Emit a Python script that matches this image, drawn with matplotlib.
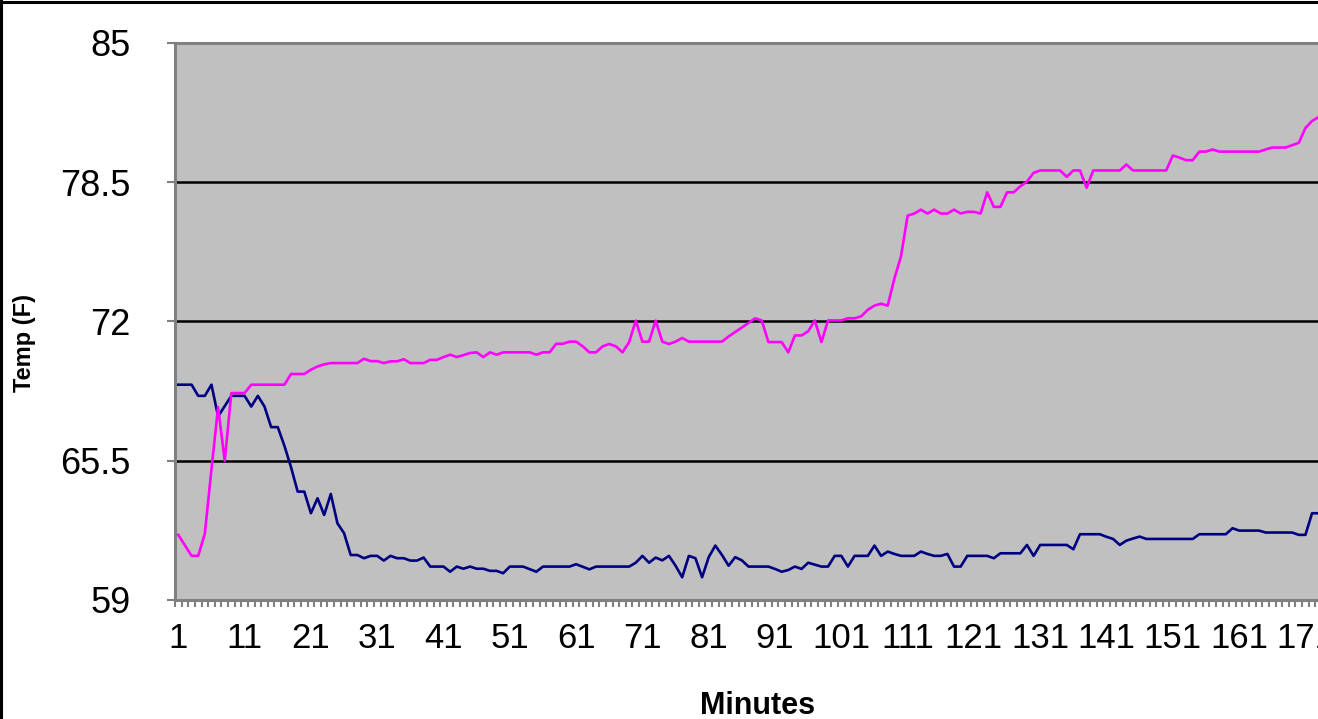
import matplotlib
matplotlib.use('Agg')
import matplotlib.pyplot as plt
from matplotlib.lines import Line2D
import numpy as np

plt.rcParams['font.family'] = ['Liberation Sans', 'DejaVu Sans']

# minute index (1 .. 174)
minutes = list(range(1, 175))

# navy series
temp_a = [
    69.05, 69.05, 69.05, 68.53, 68.53, 69.05, 67.57, 68.05, 68.53, 68.53,
    68.53, 68.03, 68.53, 68.03, 67.07, 67.07, 66.2, 65.2, 64.06, 64.06,
    63.05, 63.75, 62.97, 63.95, 62.58, 62.12, 61.1, 61.1, 60.95, 61.06,
    61.06, 60.84, 61.06, 60.95, 60.95, 60.84, 60.84, 60.98, 60.56, 60.56,
    60.56, 60.32, 60.56, 60.46, 60.56, 60.46, 60.46, 60.36, 60.36, 60.25,
    60.56, 60.56, 60.56, 60.44, 60.32, 60.56, 60.56, 60.56, 60.56, 60.56,
    60.67, 60.55, 60.43, 60.56, 60.56, 60.56, 60.56, 60.56, 60.56, 60.74,
    61.06, 60.74, 60.98, 60.85, 61.06, 60.6, 60.06, 61.06, 60.95, 60.06,
    61.0, 61.54, 61.1, 60.6, 61.0, 60.85, 60.56, 60.56, 60.56, 60.56,
    60.45, 60.32, 60.4, 60.56, 60.45, 60.74, 60.65, 60.56, 60.56, 61.06,
    61.06, 60.56, 61.06, 61.06, 61.06, 61.54, 61.06, 61.26, 61.15, 61.06,
    61.06, 61.06, 61.26, 61.15, 61.06, 61.06, 61.15, 60.56, 60.56, 61.06,
    61.06, 61.06, 61.06, 60.95, 61.18, 61.18, 61.18, 61.18, 61.57, 61.06,
    61.57, 61.57, 61.57, 61.57, 61.57, 61.37, 62.07, 62.07, 62.07, 62.07,
    61.95, 61.85, 61.57, 61.77, 61.87, 61.96, 61.85, 61.85, 61.85, 61.85,
    61.85, 61.85, 61.85, 61.85, 62.07, 62.07, 62.07, 62.07, 62.07, 62.35,
    62.24, 62.24, 62.24, 62.24, 62.15, 62.15, 62.15, 62.15, 62.15, 62.04,
    62.04, 63.05, 63.05, 63.05,
]

# magenta series
temp_b = [
    62.04, 61.55, 61.06, 61.06, 62.1, 65.1, 68.0, 65.5, 68.66, 68.66,
    68.66, 69.05, 69.05, 69.05, 69.05, 69.05, 69.05, 69.55, 69.55, 69.55,
    69.75, 69.9, 70.0, 70.06, 70.06, 70.06, 70.06, 70.06, 70.26, 70.15,
    70.15, 70.06, 70.14, 70.14, 70.24, 70.06, 70.06, 70.06, 70.21, 70.21,
    70.34, 70.45, 70.34, 70.43, 70.53, 70.56, 70.34, 70.56, 70.45, 70.56,
    70.56, 70.56, 70.56, 70.56, 70.45, 70.56, 70.56, 70.96, 70.96, 71.06,
    71.06, 70.84, 70.56, 70.56, 70.84, 70.95, 70.84, 70.56, 71.04, 72.04,
    71.06, 71.06, 72.04, 71.06, 70.95, 71.06, 71.23, 71.06, 71.06, 71.06,
    71.06, 71.06, 71.06, 71.3, 71.51, 71.72, 71.93, 72.15, 72.05, 71.04,
    71.04, 71.04, 70.56, 71.35, 71.35, 71.54, 72.05, 71.04, 72.05, 72.05,
    72.05, 72.15, 72.15, 72.24, 72.55, 72.74, 72.83, 72.74, 74.0, 75.04,
    76.94, 77.04, 77.22, 77.04, 77.22, 77.04, 77.04, 77.22, 77.04, 77.12,
    77.12, 77.04, 78.03, 77.35, 77.35, 78.03, 78.03, 78.31, 78.53, 78.94,
    79.05, 79.05, 79.05, 79.05, 78.75, 79.05, 79.05, 78.24, 79.05, 79.05,
    79.05, 79.05, 79.05, 79.33, 79.05, 79.05, 79.05, 79.05, 79.05, 79.05,
    79.75, 79.65, 79.53, 79.53, 79.93, 79.93, 80.03, 79.93, 79.93, 79.93,
    79.93, 79.93, 79.93, 79.93, 80.03, 80.12, 80.12, 80.12, 80.23, 80.34,
    81.03, 81.36, 81.55, 81.62,
]

y_ticks = [59, 65.5, 72, 78.5, 85]
y_ticklabels = ['59', '65.5', '72', '78.5', '85']
x_ticks = list(range(1, 172, 10))

W, H = 1318, 719
fig = plt.figure(figsize=(W / 100, H / 100), dpi=100)
n = len(minutes)
cat_w = 6.63
ax = fig.add_axes([175 / W, 119 / H, n * cat_w / W, 557 / H])
ax.set_facecolor('#C0C0C0')

grey = '#808080'
for y in y_ticks[1:-1]:
    ax.axhline(y, color='black', lw=1.8, zorder=1)

ax.plot(minutes, temp_a, color='#000080', lw=1.9, zorder=3)
ax.plot(minutes, temp_b, color='#FF00FF', lw=1.9, zorder=4)

ax.set_xlim(0.5, n + 0.5)
ax.set_ylim(59, 85)

ax.set_yticks(y_ticks)
ax.set_yticklabels(y_ticklabels)
ax.set_xticks(x_ticks)
ax.set_xticklabels([str(v) for v in x_ticks])
ax.set_xticks(np.arange(0.5, n + 1, 1), minor=True)

ax.tick_params(axis='y', length=6, width=1.5, color=grey, labelsize=26, pad=26)
ax.tick_params(axis='x', which='major', length=0, labelsize=25, pad=16)
ax.tick_params(axis='x', which='minor', length=5, width=1.5, color=grey)

for side in ['left', 'bottom', 'top']:
    ax.spines[side].set_color(grey)
    ax.spines[side].set_linewidth(2.2)
ax.spines['right'].set_visible(False)

ax.set_xlabel('Minutes', fontsize=22, fontweight='bold')
ax.xaxis.set_label_coords((758 - 175) / (n * cat_w), -0.163)
ax.set_ylabel('Temp (F)', fontsize=17, fontweight='bold')
ax.yaxis.set_label_coords((36 - 175) / (n * cat_w), (600 - 343) / 557)

# chart area border (top and left edges visible in the crop)
fig.add_artist(Line2D([0, 1], [1 - 1.5 / H, 1 - 1.5 / H], color='black', lw=2.2))
fig.add_artist(Line2D([1 / W, 1 / W], [0, 1], color='black', lw=2.2))

fig.savefig('out.png', dpi=100)
